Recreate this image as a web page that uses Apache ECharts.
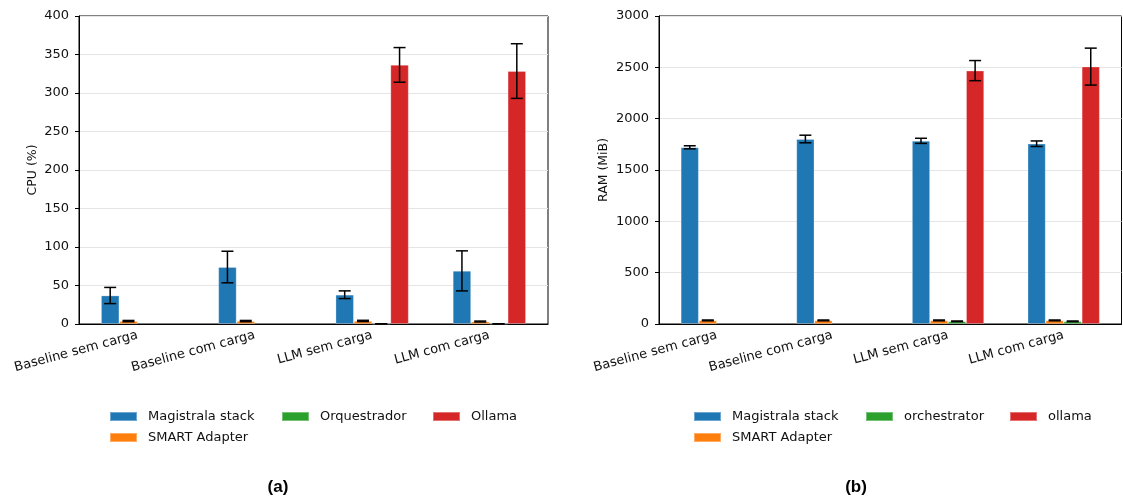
<!DOCTYPE html>
<html>
<head>
<meta charset="utf-8">
<script src="https://cdn.jsdelivr.net/npm/echarts@6/dist/echarts.min.js"></script>
<style>
  * { margin: 0; padding: 0; }
  body { background: #fff; }
  #main { width: 1123px; height: 501px; }
</style>
</head>
<body>
<div id="main"></div>
<script>
// categorias do eixo x (iguais nos dois painéis)
const categories = ['Baseline sem carga', 'Baseline com carga', 'LLM sem carga', 'LLM com carga'];

// (a) CPU (%)
const cpuMagistrala = [37, 74, 38, 69];
const cpuMagistralaErr = [10.5, 20.5, 5, 26];
const cpuSmart = [3.8, 3.8, 4, 3.2];
const cpuSmartErr = [0.8, 0.8, 0.8, 0.6];
const cpuOrq = [null, null, 0.3, 0.3];
const cpuOrqErr = [0, 0, 0, 0];
const cpuOllama = [null, null, 336.5, 328.5];
const cpuOllamaErr = [22.5, 22.5, 22.5, 35.5];

// (b) RAM (MiB)
const ramMagistrala = [1721, 1802, 1784, 1756];
const ramMagistralaErr = [15, 37, 25, 27];
const ramSmart = [35, 35, 35, 35];
const ramSmartErr = [4, 4, 4, 4];
const ramOrch = [null, null, 26, 26];
const ramOrchErr = [0, 0, 3, 3];
const ramOllama = [null, null, 2468, 2507];
const ramOllamaErr = [0, 0, 98, 180];

const cpuTicks = { min: 0, max: 400, interval: 50 };
const ramTicks = { min: 0, max: 3000, interval: 500 };

const colors = ['#1f77b4', '#ff7f0e', '#2ca02c', '#d62728'];
const BAR_FRAC = 0.156;
const FONT = 'DejaVu Sans';

const chart = echarts.init(document.getElementById('main'));

function errData(vals, errs, k) {
  const out = [];
  vals.forEach(function (v, i) {
    if (v != null && errs[i] != null) out.push([i, v, errs[i], k]);
  });
  return out;
}

function errRender(params, api) {
  const cat = api.value(0), mean = api.value(1), err = api.value(2), k = api.value(3);
  const band = api.size([1, 0])[0];
  const bw = band * BAR_FRAC;
  const cx = api.coord([cat, 0])[0] + (k - 1.5) * bw;
  const yt = api.coord([cat, mean + err])[1];
  const yb = api.coord([cat, mean - err])[1];
  const half = 6;
  const st = { stroke: '#000', lineWidth: 1.5 };
  return {
    type: 'group',
    children: [
      { type: 'line', shape: { x1: cx, y1: yt, x2: cx, y2: yb }, style: st },
      { type: 'line', shape: { x1: cx - half, y1: yt, x2: cx + half, y2: yt }, style: st },
      { type: 'line', shape: { x1: cx - half, y1: yb, x2: cx + half, y2: yb }, style: st }
    ]
  };
}

function panelAxes(idx, name, ticks, nameGap) {
  const x = {
    type: 'category', gridIndex: idx, data: categories,
    axisLine: { lineStyle: { color: '#000', width: 1 } },
    axisTick: { alignWithLabel: true, length: 4, lineStyle: { color: '#000' } },
    axisLabel: { rotate: 15, margin: 11, fontSize: 13, fontFamily: FONT, color: '#111', interval: 0 }
  };
  const y = {
    type: 'value', gridIndex: idx, min: ticks.min, max: ticks.max, interval: ticks.interval,
    name: name, nameLocation: 'middle', nameGap: nameGap,
    nameTextStyle: { fontSize: 12.5, fontFamily: FONT, color: '#111' },
    axisLine: { show: true, lineStyle: { color: '#000', width: 1 } },
    axisTick: { show: true, length: 4, lineStyle: { color: '#000' } },
    axisLabel: { fontSize: 13, fontFamily: FONT, color: '#111', margin: 10, formatter: function (v) { return String(v); } },
    splitLine: { show: true, lineStyle: { color: '#e5e5e5', width: 1 } }
  };
  return [x, y];
}

function barSeries(idx, name, data, k) {
  return {
    type: 'bar', name: name, xAxisIndex: idx, yAxisIndex: idx, data: data,
    barWidth: (BAR_FRAC * 100) + '%', barGap: '0%',
    itemStyle: { color: colors[k], borderColor: 'rgba(255,255,255,0.35)', borderWidth: 0.8 },
    emphasis: { disabled: true }
  };
}

function errSeries(idx, name, vals, errs, k) {
  return {
    type: 'custom', name: name + ' err', xAxisIndex: idx, yAxisIndex: idx,
    renderItem: errRender, data: errData(vals, errs, k), z: 5,
    encode: { x: 0, y: 1 }, silent: true
  };
}

function legendItem(name, k, left, top) {
  return {
    data: [name], left: left, top: top, padding: 0,
    icon: 'rect', itemWidth: 27, itemHeight: 9,
    itemStyle: { color: colors[k] },
    textStyle: { fontSize: 13, fontFamily: FONT, color: '#111', padding: [0, 0, 0, 6] },
    selectedMode: false
  };
}

const [x0, y0] = panelAxes(0, 'CPU (%)', cpuTicks, 40);
const [x1, y1] = panelAxes(1, 'RAM (MiB)', ramTicks, 49);

const cpuNames = ['Magistrala stack', 'SMART Adapter', 'Orquestrador', 'Ollama'];
const ramNames = ['Magistrala stack', 'SMART Adapter', 'orchestrator', 'ollama'];
const cpuVals = [cpuMagistrala, cpuSmart, cpuOrq, cpuOllama];
const cpuErrs = [cpuMagistralaErr, cpuSmartErr, cpuOrqErr, cpuOllamaErr];
const ramVals = [ramMagistrala, ramSmart, ramOrch, ramOllama];
const ramErrs = [ramMagistralaErr, ramSmartErr, ramOrchErr, ramOllamaErr];

const series = [];
cpuVals.forEach(function (v, k) { series.push(barSeries(0, cpuNames[k], v, k)); });
ramVals.forEach(function (v, k) { series.push(barSeries(1, ramNames[k], v, k)); });
cpuVals.forEach(function (v, k) { series.push(errSeries(0, cpuNames[k], v, cpuErrs[k], k)); });
ramVals.forEach(function (v, k) { series.push(errSeries(1, ramNames[k], v, ramErrs[k], k)); });

chart.setOption({
  animation: false,
  backgroundColor: '#fff',
  grid: [
    { left: 79, right: 575, top: 16, bottom: 177, show: true, borderColor: '#000', borderWidth: 1 },
    { left: 659, right: 1.5, top: 16, bottom: 177, show: true, borderColor: '#000', borderWidth: 1 }
  ],
  xAxis: [x0, x1],
  yAxis: [y0, y1],
  legend: [
    legendItem(cpuNames[0], 0, 109, 410),
    legendItem(cpuNames[1], 1, 109, 431),
    legendItem(cpuNames[2], 2, 281, 410),
    legendItem(cpuNames[3], 3, 432, 410),
    legendItem(ramNames[0], 0, 693, 410),
    legendItem(ramNames[1], 1, 693, 431),
    legendItem(ramNames[2], 2, 865, 410),
    legendItem(ramNames[3], 3, 1009, 410)
  ],
  graphic: [
    { type: 'text', x: 278, y: 487, style: { text: '(a)', font: 'bold 17px "Liberation Sans", Arial, sans-serif', fill: '#000', textAlign: 'center', textVerticalAlign: 'middle' } },
    { type: 'text', x: 856, y: 487, style: { text: '(b)', font: 'bold 17px "Liberation Sans", Arial, sans-serif', fill: '#000', textAlign: 'center', textVerticalAlign: 'middle' } }
  ],
  series: series
});
</script>
</body>
</html>
